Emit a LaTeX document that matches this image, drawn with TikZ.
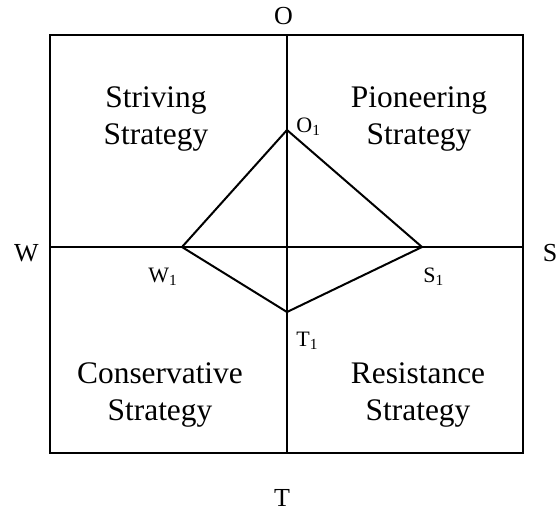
\documentclass[tikz,border=0pt]{standalone}
\usepackage{fontspec}
\setmainfont{Liberation Serif}

\begin{document}
\begin{tikzpicture}[
  x=0.5pt, y=-0.5pt,
  ln/.style={line width=1pt},
  quad/.style={align=center, inner sep=0pt,
               font=\fontsize{15.7}{18.2}\selectfont},
  axl/.style={inner sep=0pt, anchor=base, font=\fontsize{13}{15}\selectfont},
  ptl/.style={inner sep=0pt, anchor=base west, font=\fontsize{11}{13}\selectfont}
]
\useasboundingbox (0,0) rectangle (560,511);

% ---------------- frame and axes ----------------
\coordinate (nw) at (49.5,35);
\coordinate (se) at (523,453);
\coordinate (top) at (287,35);
\coordinate (bot) at (287,453);
\coordinate (lft) at (49.5,247);
\coordinate (rgt) at (523,247);
\draw[ln] (nw) rectangle (se);
\draw[ln] (top) -- (bot);
\draw[ln] (lft) -- (rgt);

\node[axl] (o) at (283.5,24) {O};
\node[axl] (t) at (282,506) {T};
\node[axl] (w) at (26.5,261) {W};
\node[axl] (s) at (550,261) {S};

% ---------------- quadrants ----------------
\node[quad] (striv) at (156,119) {Striving\\Strategy};
\node[quad] (pion) at (419,119) {Pioneering\\Strategy};
\node[quad] (cons) at (160,395) {Conservative\\Strategy};
\node[quad] (resi) at (418,395) {Resistance\\Strategy};

% ---------------- diamond ----------------
\coordinate (o1) at (287,130);
\coordinate (w1) at (182,247);
\coordinate (s1) at (422,247);
\coordinate (t1) at (287,312);
\draw[ln, line join=miter] (o1) -- (s1) -- (t1) -- (w1) -- cycle;

\node[ptl] (o1l) at (296,132) {O\textsubscript{1}};
\node[ptl] (w1l) at (148,282) {W\textsubscript{1}};
\node[ptl] (s1l) at (423,282) {S\textsubscript{1}};
\node[ptl] (t1l) at (296,346) {T\textsubscript{1}};
\end{tikzpicture}
\end{document}
